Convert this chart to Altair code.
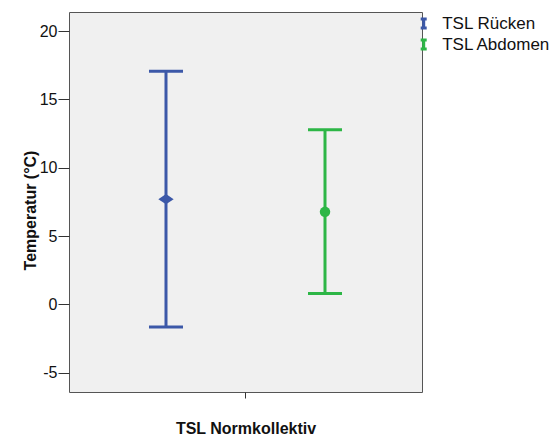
import altair as alt
import pandas as pd

groups = ["TSL Rücken", "TSL Abdomen"]
x_index = [0, 1]
means = [7.70, 6.77]
lower = [-1.66, 0.80]
upper = [17.05, 12.77]
colors = ["#3c58a8", "#2db646"]
y_ticks = [-5, 0, 5, 10, 15, 20]

df = pd.DataFrame({"group": groups, "x": x_index, "mean": means, "lo": lower, "hi": upper})

FONT = "Liberation Sans"
xscale = alt.Scale(domain=[-0.61, 1.61], nice=False, zero=False)
yscale = alt.Scale(domain=[-6.41, 21.39], nice=False, zero=False)
cscale = alt.Scale(domain=groups, range=colors)
diamond = "M-1.43,0L0,-0.95L1.43,0L0,0.95Z"
ibeam = "M-0.5,-0.75H0.5M0,-0.75V0.75M-0.5,0.75H0.5"

xaxis = alt.Axis(values=[0.5], labels=False, grid=False, domain=False, tickSize=6,
                 tickColor="#333", tickWidth=1, title="TSL Normkollektiv",
                 titleFontSize=16, titleFontWeight="bold", titleColor="#111", titleFont=FONT,
                 titleX=176.5, titleY=41, titleAlign="center", titleBaseline="alphabetic")
yaxis = alt.Axis(values=y_ticks, labelExpr="datum.value + ''", grid=False, domain=False,
                 tickSize=11, tickColor="#333", tickWidth=1, labelPadding=1,
                 labelFontSize=16, labelColor="#111", labelFont=FONT,
                 title="Temperatur (°C)", titleFontSize=16, titleFontWeight="bold",
                 titleColor="#111", titleFont=FONT, titleAngle=270, titleX=-34, titleY=198,
                 titleAlign="center", titleBaseline="alphabetic")

X = alt.X("x:Q", scale=xscale, axis=xaxis)
base = alt.Chart(df)

bars = base.mark_rule(strokeWidth=3, opacity=1).encode(
    x=X,
    y=alt.Y("lo:Q", scale=yscale, axis=yaxis),
    y2="hi:Q",
    color=alt.Color("group:N", scale=cscale, sort=groups, legend=alt.Legend(
        title=None, orient="none", legendX=346.2, legendY=3,
        symbolType=ibeam, symbolSize=144, symbolStrokeWidth=3, symbolOpacity=1,
        labelFontSize=17, labelFont=FONT,
        labelColor="#111", labelOffset=10, rowPadding=0, padding=0)),
)

caps = base.transform_fold(["lo", "hi"], as_=["end", "val"]).mark_tick(
    orient="horizontal", size=34, thickness=3, opacity=1).encode(
    x=X,
    y=alt.Y("val:Q", scale=yscale, axis=yaxis),
    color=alt.Color("group:N", scale=cscale, legend=None),
)

pt_r = base.transform_filter(alt.datum.group == groups[0]).mark_point(
    filled=True, shape=diamond, size=115, opacity=1, strokeWidth=0, color=colors[0]).encode(
    x=X, y=alt.Y("mean:Q", scale=yscale, axis=yaxis))
pt_a = base.transform_filter(alt.datum.group == groups[1]).mark_point(
    filled=True, shape="circle", size=110, opacity=1, strokeWidth=0, color=colors[1]).encode(
    x=X, y=alt.Y("mean:Q", scale=yscale, axis=yaxis))

chart = alt.layer(bars, caps, pt_r, pt_a).properties(
    width=353, height=380,
    background="white",
    autosize=alt.AutoSizeParams(type="none"),
    padding={"left": 69, "top": 12, "right": 136, "bottom": 46},
).configure_view(
    fill="#f0f0f0", stroke="#555", strokeWidth=1
)

chart.save("out.html", embed_options={"renderer": "svg", "actions": False})
